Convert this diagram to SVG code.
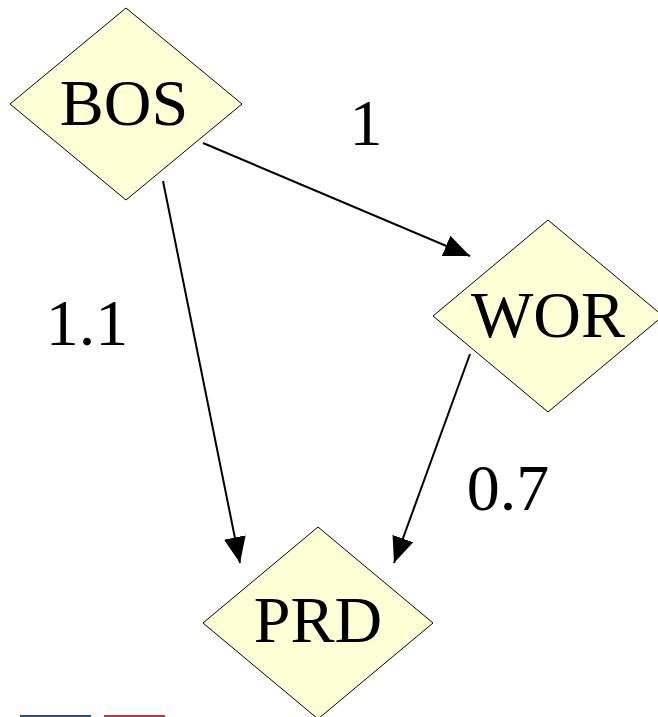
<svg xmlns="http://www.w3.org/2000/svg" width="658" height="717" viewBox="0 0 658 717">
  <style>
    .node { fill: #ffffd5; stroke: #000; stroke-width: 1; }
    .txt { font-family: "Liberation Serif", "Times New Roman", serif; font-size: 66px; fill: #000; text-anchor: middle; }
    .edge { stroke: #000; stroke-width: 2; fill: none; marker-end: url(#arrow); }
  </style>
  <defs>
    <marker id="arrow" markerUnits="userSpaceOnUse" markerWidth="27" markerHeight="23" refX="26" refY="11" orient="auto">
      <path d="M0,0 L26,11 L0,22 z" fill="#000"/>
    </marker>
  </defs>
  <rect width="658" height="717" fill="#fff"/>

  <g id="BOS">
    <polygon class="node" points="126,8 242,104 126,200 10,104"/>
    <text class="txt" x="124" y="125">BOS</text>
  </g>
  <g id="WOR">
    <polygon class="node" points="548,220 663,316 548,412 433,316"/>
    <text class="txt" x="548" y="337">WOR</text>
  </g>
  <g id="PRD">
    <polygon class="node" points="318,527 433,623 318,719 203,623"/>
    <text class="txt" x="318" y="642">PRD</text>
  </g>

  <g id="connectors">
    <line class="edge" x1="203" y1="143" x2="470" y2="256"/>
    <line class="edge" x1="163" y1="181" x2="240" y2="563"/>
    <line class="edge" x1="470" y1="354" x2="394" y2="563"/>
    <text class="txt" x="366" y="145">1</text>
    <text class="txt" x="87" y="345">1.1</text>
    <text class="txt" x="508" y="510">0.7</text>
  </g>

  <line x1="20" y1="716" x2="91" y2="716" stroke="#1f4e9a" stroke-width="2"/>
  <line x1="104" y1="716" x2="165" y2="716" stroke="#e8213f" stroke-width="2"/>
</svg>
